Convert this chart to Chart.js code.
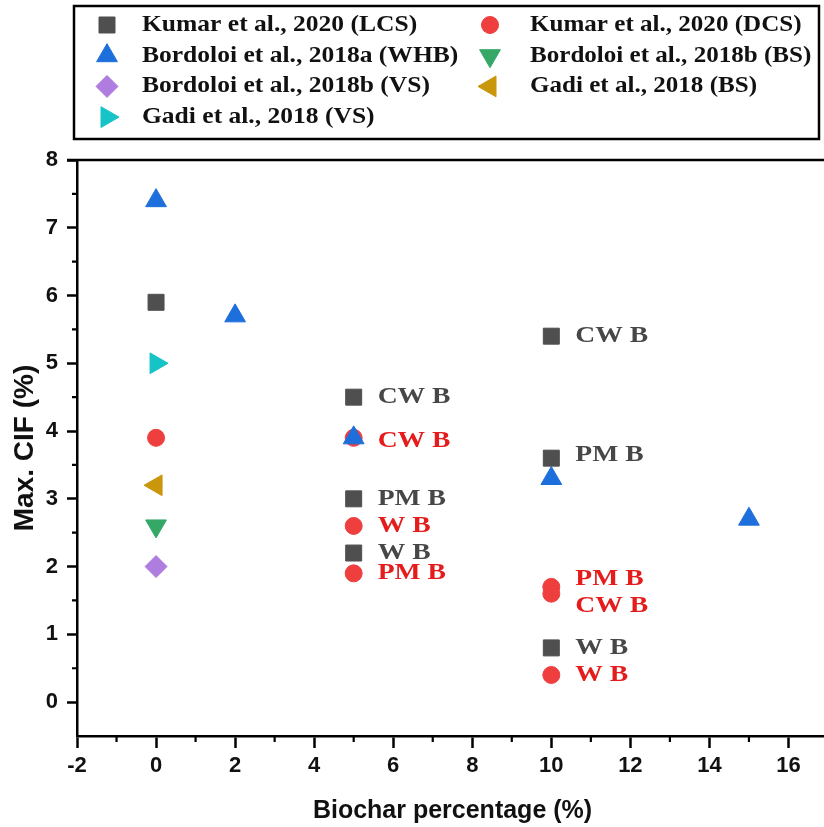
<!DOCTYPE html>
<html>
<head>
<meta charset="utf-8">
<script src="https://cdn.jsdelivr.net/npm/chart.js@4/dist/chart.umd.min.js"></script>
<style>
  html, body { margin: 0; padding: 0; background: #fff; overflow: hidden; }
  #wrap { width: 841px; height: 827px; }
</style>
</head>
<body>
<div id="wrap"><canvas id="chart" width="841" height="827"></canvas></div>
<script>
// values
const kumarLcsX = [0, 5, 5, 5, 10, 10, 10];
const kumarLcsY = [5.9, 4.5, 3.0, 2.2, 5.4, 3.6, 0.8];
const kumarLcsTags = ['', 'CW B', 'PM B', 'W B', 'CW B', 'PM B', 'W B'];

const kumarDcsX = [0, 5, 5, 5, 10, 10, 10];
const kumarDcsY = [3.9, 3.9, 2.6, 1.9, 1.7, 1.6, 0.4];
const kumarDcsTags = ['', 'CW B', 'W B', 'PM B', 'PM B', 'CW B', 'W B'];

const bordoloiWhbX = [0, 2, 5, 10, 15];
const bordoloiWhbY = [7.4, 5.7, 3.9, 3.3, 2.7];

const bordoloiBsX = [0];
const bordoloiBsY = [2.6];

const bordoloiVsX = [0];
const bordoloiVsY = [2.0];

const gadiBsX = [0];
const gadiBsY = [3.2];

const gadiVsX = [0];
const gadiVsY = [5.0];

const seriesNames = [
  'Kumar et al., 2020 (LCS)', 'Kumar et al., 2020 (DCS)',
  'Bordoloi et al., 2018a (WHB)', 'Bordoloi et al., 2018b (BS)',
  'Bordoloi et al., 2018b (VS)', 'Gadi et al., 2018 (BS)',
  'Gadi et al., 2018 (VS)'
];

const xTicksMinor = [-1, 1, 3, 5, 7, 9, 11, 13, 15, 17];
const yTicksMinor = [0.5, 1.5, 2.5, 3.5, 4.5, 5.5, 6.5, 7.5];

const pts = (xs, ys) => xs.map((x, i) => ({ x: x, y: ys[i] }));

// small nudges for labels that would overlap (pixels)
const tagNudge = { '1:4': -8, '1:5': 12, '1:1': 3, '0:5': -3 };

function series(label, xs, ys, style, color, radius, rotation, order, tags) {
  return {
    label: label,
    data: pts(xs, ys),
    pointStyle: style,
    rotation: rotation || 0,
    pointRadius: radius,
    pointHoverRadius: radius,
    backgroundColor: color,
    borderColor: color,
    borderWidth: 1,
    order: order,
    tags: tags || null,
    tagColor: color
  };
}

const datasets = [
  series(seriesNames[0], kumarLcsX, kumarLcsY, 'rect', '#4f4f4f', 11.3, 0, 0, kumarLcsTags),
  series(seriesNames[1], kumarDcsX, kumarDcsY, 'circle', '#ee3e3e', 8.5, 0, 2, kumarDcsTags),
  series(seriesNames[2], bordoloiWhbX, bordoloiWhbY, 'triangle', '#1d6fdc', 12, 0, 1),
  series(seriesNames[3], bordoloiBsX, bordoloiBsY, 'triangle', '#35a867', 12, 180, 3),
  series(seriesNames[4], bordoloiVsX, bordoloiVsY, 'rectRot', '#ae7ddf', 11, 0, 3),
  series(seriesNames[5], gadiBsX, gadiBsY, 'triangle', '#c9960c', 12, -90, 3),
  series(seriesNames[6], gadiVsX, gadiVsY, 'triangle', '#16c3c6', 12, 90, 3)
];
datasets[0].tagColor = '#474747';
datasets[1].tagColor = '#e41c1c';

const frame = {
  id: 'frame',
  afterDraw(chart) {
    const ctx = chart.ctx;
    const a = chart.chartArea;
    const xs = chart.scales.x, ys = chart.scales.y;
    ctx.save();
    ctx.strokeStyle = '#000';
    ctx.lineWidth = 2.5;
    // top border
    ctx.beginPath();
    ctx.moveTo(a.left - 10, a.top);
    ctx.lineTo(chart.width, a.top);
    ctx.stroke();
    // minor ticks
    ctx.lineWidth = 2.2;
    ctx.beginPath();
    xTicksMinor.forEach(v => {
      const px = xs.getPixelForValue(v);
      ctx.moveTo(px, a.bottom);
      ctx.lineTo(px, a.bottom + 6);
    });
    yTicksMinor.forEach(v => {
      const py = ys.getPixelForValue(v);
      ctx.moveTo(a.left, py);
      ctx.lineTo(a.left - 5, py);
    });
    ctx.stroke();
    ctx.restore();
  }
};

const tags = {
  id: 'tags',
  afterDatasetsDraw(chart) {
    const ctx = chart.ctx;
    ctx.save();
    ctx.font = 'bold 23px "Liberation Serif", "Times New Roman", serif';
    ctx.textAlign = 'left';
    ctx.textBaseline = 'middle';
    chart.data.datasets.forEach((ds, di) => {
      if (!ds.tags) return;
      const meta = chart.getDatasetMeta(di);
      ds.tags.forEach((t, i) => {
        if (!t) return;
        const el = meta.data[i];
        const dy = tagNudge[di + ':' + i] || 0;
        ctx.save();
        ctx.translate(el.x + 24, el.y + dy);
        ctx.scale(1.2, 1);
        ctx.fillStyle = ds.tagColor;
        ctx.fillText(t, 0, 0);
        ctx.restore();
      });
    });
    ctx.restore();
  }
};

const boxLegend = {
  id: 'boxLegend',
  afterDraw(chart) {
    const ctx = chart.ctx;
    ctx.save();
    ctx.strokeStyle = '#000';
    ctx.lineWidth = 2.5;
    ctx.strokeRect(74, 6, 745, 133);
    ctx.font = 'bold 23px "Liberation Serif", "Times New Roman", serif';
    ctx.textAlign = 'left';
    ctx.textBaseline = 'middle';
    const markX = [107, 490], textX = [142, 530];
    chart.data.datasets.forEach((ds, i) => {
      const col = i % 2, row = Math.floor(i / 2);
      const y = 25 + row * 30.7;
      ctx.fillStyle = ds.backgroundColor;
      ctx.strokeStyle = ds.borderColor;
      ctx.lineWidth = 1;
      Chart.helpers.drawPoint(ctx, {
        pointStyle: ds.pointStyle, rotation: ds.rotation,
        radius: ds.pointRadius, borderWidth: 1
      }, markX[col], y);
      ctx.save();
      ctx.translate(textX[col], y);
      ctx.scale(col ? 1.09 : 1.11, 1);
      ctx.fillStyle = '#111';
      ctx.fillText(ds.label, 0, 0);
      ctx.restore();
    });
    ctx.restore();
  }
};

new Chart(document.getElementById('chart'), {
  type: 'scatter',
  data: { datasets: datasets },
  plugins: [frame, tags, boxLegend],
  options: {
    responsive: false,
    animation: false,
    devicePixelRatio: 1,
    layout: { padding: { top: 160, left: 0, right: 0, bottom: 0 } },
    plugins: { legend: { display: false }, tooltip: { enabled: false } },
    scales: {
      x: {
        type: 'linear',
        min: -2,
        max: 17,
        afterFit: s => { s.height = 91; },
        ticks: {
          stepSize: 2,
          includeBounds: false,
          color: '#111',
          padding: 5,
          maxRotation: 0,
          font: { family: '"Liberation Sans", Arial, sans-serif', size: 22, weight: 'bold' }
        },
        grid: {
          drawOnChartArea: false,
          drawTicks: true,
          tickLength: 12,
          tickWidth: 2.5,
          tickColor: '#000'
        },
        border: { display: true, color: '#000', width: 2.5 },
        title: {
          display: true,
          text: 'Biochar percentage (%)',
          color: '#111',
          padding: { top: 0, bottom: 1 },
          font: { family: '"Liberation Sans", Arial, sans-serif', size: 25, weight: 'bold' }
        }
      },
      y: {
        type: 'linear',
        min: -0.5,
        max: 8,
        afterFit: s => { s.width = 77; },
        ticks: {
          stepSize: 1,
          includeBounds: false,
          color: '#111',
          padding: 9,
          font: { family: '"Liberation Sans", Arial, sans-serif', size: 22, weight: 'bold' }
        },
        grid: {
          drawOnChartArea: false,
          drawTicks: true,
          tickLength: 10,
          tickWidth: 2.5,
          tickColor: '#000'
        },
        border: { display: true, color: '#000', width: 2.5 },
        title: {
          display: true,
          text: 'Max. CIF (%)',
          color: '#111',
          padding: { top: 8, bottom: 0 },
          font: { family: '"Liberation Sans", Arial, sans-serif', size: 28, weight: 'bold' }
        }
      }
    }
  }
});
</script>
</body>
</html>
